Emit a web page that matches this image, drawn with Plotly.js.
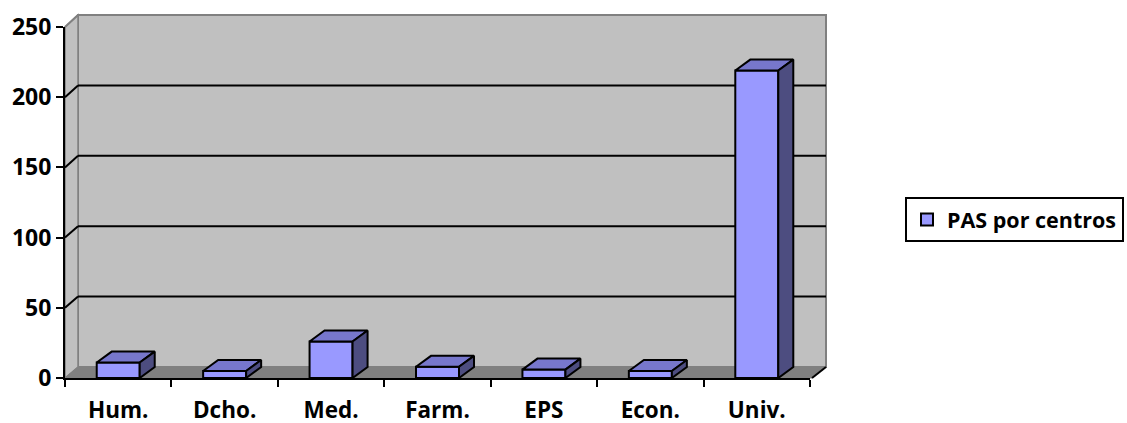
<!DOCTYPE html>
<html>
<head>
<meta charset="utf-8">
<script src="https://cdn.plot.ly/plotly-3.0.1.min.js"></script>
<style>
html,body{margin:0;padding:0;background:#fff;overflow:hidden;width:1127px;height:423px;}
#chart{width:1127px;height:423px;overflow:hidden;}
</style>
</head>
<body>
<div id="chart"></div>
<script>
const categories = ['Hum.', 'Dcho.', 'Med.', 'Farm.', 'EPS', 'Econ.', 'Univ.'];
const values = [11, 5, 26, 8, 6, 5, 219];
const seriesName = 'PAS por centros';
const yTickVals = [0, 50, 100, 150, 200, 250];
const gridVals = [50, 100, 150, 200];

const W = 1127, H = 423;
const px = x => x / W;
const py = y => 1 - y / H;
// front plane: value 0 at y=378, 250 at y=27 ; back plane: 0 at 367, 250 at 15
const yFront = v => 378 - v * (378 - 27) / 250;
const yBack = v => 367 - v * (367 - 15) / 250;

const idx = categories.map((c, i) => i);
const barW = 0.404;
const dx = 0.141;   // depth offset in category units
const dy = 7.8;     // depth offset in value units

// top and side faces built from the data
const topX = [], topY = [], sideX = [], sideY = [];
idx.forEach(i => {
  const v = values[i], l = i - barW / 2, r = i + barW / 2;
  topX.push(l, l + dx, r + dx, r, l, null);
  topY.push(v, v + dy, v + dy, v, v, null);
  sideX.push(r, r + dx, r + dx, r, r, null);
  sideY.push(v, v + dy, dy, 0, v, null);
});

const font = {family: '"Open Sans", sans-serif', size: 23, color: '#000', weight: 700};
const xFont = {family: '"Open Sans", sans-serif', size: 22.5, color: '#000', weight: 700};
const legendFont = {family: '"Open Sans", sans-serif', size: 21.5, color: '#000', weight: 700};

const traces = [
  {
    type: 'bar', x: idx, y: values, name: seriesName, width: barW,
    marker: {color: '#9999ff', line: {color: '#000', width: 2}},
    hoverinfo: 'skip'
  },
  {
    type: 'scatter', mode: 'lines', x: topX, y: topY,
    fill: 'toself', fillcolor: '#7777cc', line: {color: '#000', width: 2},
    showlegend: false, hoverinfo: 'skip'
  },
  {
    type: 'scatter', mode: 'lines', x: sideX, y: sideY,
    fill: 'toself', fillcolor: '#4d4d80', line: {color: '#000', width: 2},
    showlegend: false, hoverinfo: 'skip'
  }
];

const path = pts => 'M' + pts.map(p => px(p[0]) + ',' + py(p[1])).join('L') + 'Z';
const seg = (x0, y0, x1, y1, color) => ({
  type: 'line', xref: 'paper', yref: 'paper', layer: 'below',
  x0: px(x0), y0: py(y0), x1: px(x1), y1: py(y1), line: {color: color, width: 2}
});

const shapes = [
  // back wall
  {type: 'rect', xref: 'paper', yref: 'paper', layer: 'below',
   x0: px(78), x1: px(826), y0: py(367), y1: py(15),
   fillcolor: '#c0c0c0', line: {color: '#808080', width: 2}},
  // left wall
  {type: 'path', xref: 'paper', yref: 'paper', layer: 'below',
   path: path([[65, 27], [78, 15], [78, 367], [65, 378]]),
   fillcolor: '#c0c0c0', line: {color: '#808080', width: 1.5}},
  // floor
  {type: 'path', xref: 'paper', yref: 'paper', layer: 'below',
   path: path([[65, 378], [78, 367], [826, 367], [812, 378]]),
   fillcolor: '#808080', line: {color: '#808080', width: 1}},
  seg(65, yFront(250), 78, yBack(250), '#808080'),
  seg(812, 378, 826, 367, '#000')
];
// gridlines: back wall + left wall diagonals
gridVals.forEach(v => {
  shapes.push(seg(78, yBack(v), 826, yBack(v), '#000'));
  shapes.push(seg(65, yFront(v), 78, yBack(v), '#000'));
});

const layout = {
  width: W, height: H, autosize: false,
  margin: {l: 0, r: 0, t: 0, b: 0, pad: 0},
  paper_bgcolor: '#fff', plot_bgcolor: 'rgba(0,0,0,0)',
  font: font,
  showlegend: true,
  legend: {
    x: px(905), y: py(197), xanchor: 'left', yanchor: 'top',
    bgcolor: '#fff', bordercolor: '#000', borderwidth: 2,
    font: legendFont, itemwidth: 30, tracegroupgap: 0
  },
  xaxis: {domain: [px(65), px(810)], range: [-0.5, 6.5],
          tickmode: 'array', tickvals: idx, ticktext: categories, ticks: '',
          showline: true, linecolor: '#000', linewidth: 2,
          showgrid: false, zeroline: false, ticklabelstandoff: 11, automargin: false,
          minor: {tickmode: 'array', tickvals: [-0.5, 0.5, 1.5, 2.5, 3.5, 4.5, 5.5, 6.5],
                  ticks: 'outside', ticklen: 7, tickwidth: 2, tickcolor: '#000', showgrid: false},
          tickfont: xFont, fixedrange: true},
  yaxis: {domain: [py(378), py(27)], range: [0, 250], automargin: false,
          tickmode: 'array', tickvals: yTickVals, ticks: 'outside', ticklen: 7, tickwidth: 2,
          tickcolor: '#000', showline: true, linecolor: '#000', linewidth: 2,
          showgrid: false, zeroline: false, tickfont: font, fixedrange: true},
  shapes: shapes
};

Plotly.newPlot('chart', traces, layout, {displayModeBar: false, staticPlot: true});
</script>
</body>
</html>
